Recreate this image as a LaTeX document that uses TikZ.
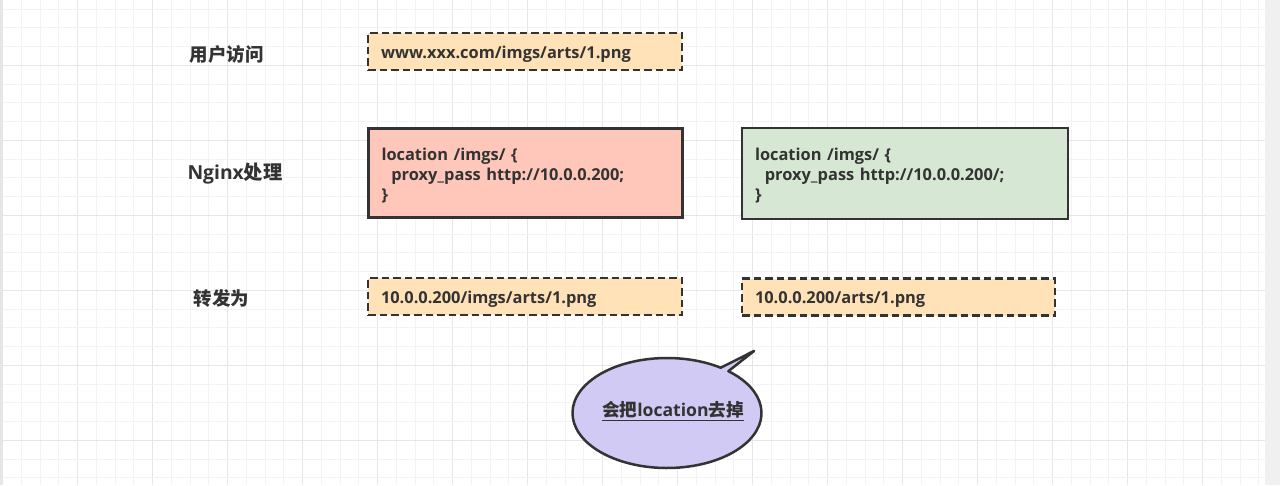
\documentclass[tikz,border=0pt]{standalone}
\usepackage{fontspec}
\setmainfont{Open Sans}
\newfontfamily\cjk{Noto Sans CJK SC}
\definecolor{strokec}{RGB}{51,51,51}
\definecolor{txt}{RGB}{51,51,51}
\definecolor{orangef}{RGB}{255,226,183}
\definecolor{redf}{RGB}{255,199,186}
\definecolor{greenf}{RGB}{214,232,212}
\definecolor{purplef}{RGB}{208,202,245}
\definecolor{gridminor}{RGB}{243,243,243}
\definecolor{gridmajor}{RGB}{230,230,230}
\definecolor{sidegray}{RGB}{240,240,240}
\tikzset{
  boxtext/.style={text=txt, font=\bfseries\fontsize{16.4}{20}\selectfont, align=left, inner xsep=13pt, inner ysep=0pt, anchor=center, yshift=-3pt},
  dbox/.style={draw=strokec, fill=orangef, line width=2.7pt, dash pattern=on 7.5pt off 4pt, inner sep=0pt},
  sbox/.style={draw=strokec, line width=2.7pt, inner sep=0pt},
  lab/.style={text=txt, font=\bfseries\fontsize{18.5}{20}\selectfont, inner sep=0pt},
}
\begin{document}
\begin{tikzpicture}[x=1pt,y=1pt]
\useasboundingbox (0,0) rectangle (1280,-485);
\fill[white] (0,0) rectangle (1280,-485);
% grid
\foreach \i in {0,...,67} {
  \pgfmathsetmacro{\gx}{2.7+18.75*\i}
  \pgfmathtruncatemacro{\m}{mod(\i,4)}
  \ifnum\m=0 \draw[gridmajor, line width=1pt] (\gx,0) -- (\gx,-485);
  \else \draw[gridminor, line width=1pt] (\gx,0) -- (\gx,-485); \fi
}
\foreach \j in {1,...,27} {
  \pgfmathsetmacro{\gy}{-9.7+18.75*\j}
  \pgfmathtruncatemacro{\m}{mod(\j,4)}
  \ifnum\m=0 \draw[gridmajor, line width=1pt] (0,-\gy) -- (1265,-\gy);
  \else \draw[gridminor, line width=1pt] (0,-\gy) -- (1265,-\gy); \fi
}
\fill[sidegray] (1265,0) rectangle (1280,-485);
\fill[gridmajor] (0,0) rectangle (2.5,-485);

% labels
\node[lab] (l1) at (226.5,-54) {\cjk 用户访问};
\node[lab] (l2) at (235,-174) {\fontsize{19.3}{20}\selectfont Nginx{\cjk 处理}};
\node[lab] (l3) at (221.5,-298) {\cjk 转发为};

% boxes
\node[dbox, minimum width=314pt, minimum height=37pt] (url) at (525,-51.5) {};
\node[boxtext, text width=288pt] (urlt) at (url.center) {www.xxx.com/imgs/arts/1.png};

\node[sbox, fill=redf, minimum width=314pt, minimum height=89pt] (cfg1) at (525.5,-173) {};
\node[boxtext, text width=288pt, yshift=0.5pt] (cfg1t) at (cfg1.center) {location /imgs/ \{\\\hspace*{0.6em}proxy\_pass http://10.0.0.200;\\\}};

\node[sbox, fill=greenf, minimum width=326pt, minimum height=91pt] (cfg2) at (905,-173.5) {};
\node[boxtext, text width=300pt, yshift=0.5pt] (cfg2t) at (cfg2.center) {location /imgs/ \{\\\hspace*{0.6em}proxy\_pass http://10.0.0.200/;\\\}};

\node[dbox, minimum width=314pt, minimum height=37pt] (out1) at (525,-296.5) {};
\node[boxtext, text width=288pt] (out1t) at (out1.center) {10.0.0.200/imgs/arts/1.png};

\node[dbox, minimum width=313pt, minimum height=37pt] (out2) at (898.5,-297) {};
\node[boxtext, text width=287pt] (out2t) at (out2.center) {10.0.0.200/arts/1.png};

% callout
\coordinate (cc) at (667,-413);
\coordinate (tip) at (754,-351);
\draw[draw=strokec, fill=purplef, line width=2.5pt, line join=round]
  (cc) ++(55.4:94.5 and 55) arc[start angle=55.4, end angle=409.5, x radius=94.5, y radius=55] -- (tip) -- cycle;
\node[text=txt, font=\bfseries\fontsize{17.6}{20}\selectfont, inner sep=0pt] (note) at (673,-411) {\underline{{\cjk 会把}location{\cjk 去掉}}};
\end{tikzpicture}
\end{document}
